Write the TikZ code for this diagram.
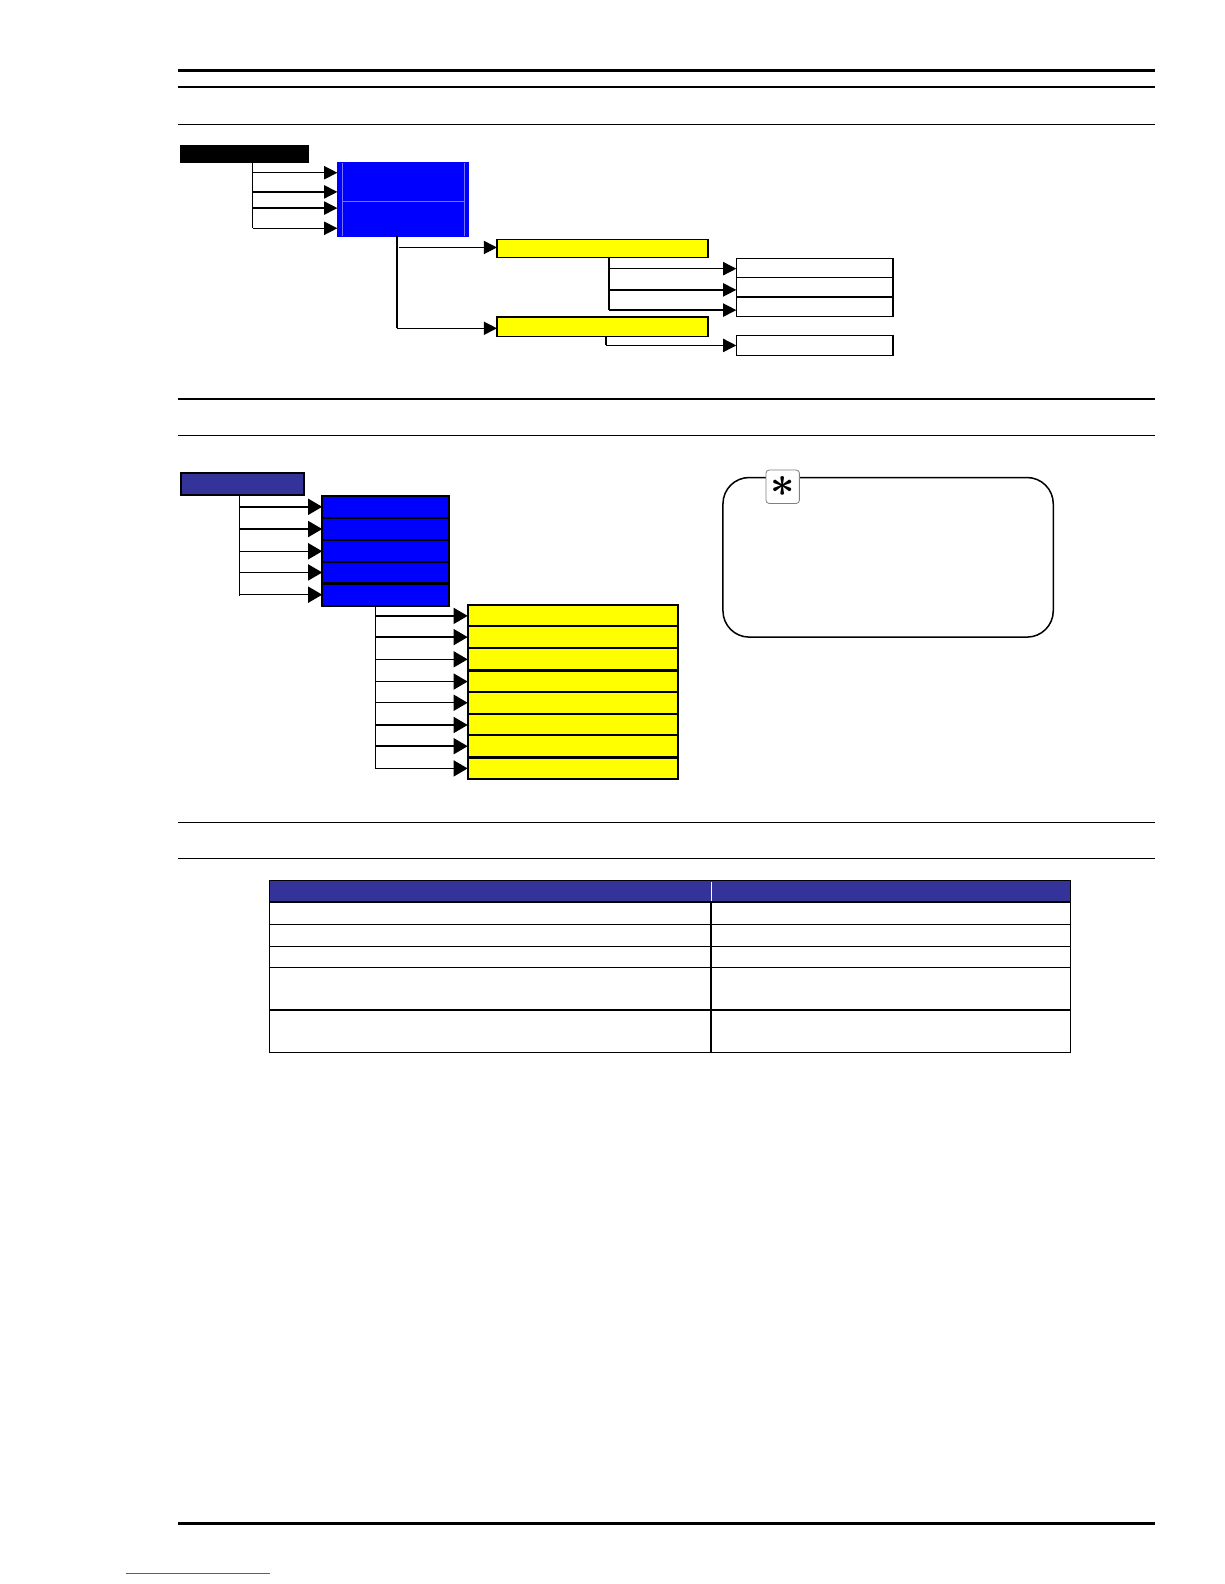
\documentclass[tikz,border=0pt]{standalone}
\usetikzlibrary{arrows.meta}
\definecolor{navy}{HTML}{333399}
\definecolor{pureblue}{HTML}{0000FF}
\definecolor{pureyellow}{HTML}{FFFF00}
\begin{document}
\begin{tikzpicture}[x=1pt,y=-1pt,
  box/.style={draw=black,line width=1.6pt,inner sep=0pt,outer sep=0pt,anchor=north west},
  sbox/.style={box,line width=2pt},
  wbox/.style={draw=black,line width=1.2pt,inner sep=0pt,outer sep=0pt,anchor=north west,fill=white},
  arr/.style={-{Triangle[length=13pt,width=13pt]},line width=1.4pt},
  arrb/.style={-{Triangle[length=14pt,width=16pt]},line width=1.4pt},
  ln/.style={line width=1.4pt},
  rule/.style={line width=1.3pt},
  thickrule/.style={line width=2.6pt}]
\useasboundingbox (0,0) rectangle (1211.8,1568.2);

% ---------- horizontal rules ----------
\draw[thickrule] (176,70) -- (1143,70);
\draw[rule] (176,86) -- (1143,86);
\draw[rule] (176,123) -- (1143,123);
\draw[rule] (176,395) -- (1143,395);
\draw[rule] (176,431) -- (1143,431);
\draw[rule] (176,814) -- (1143,814);
\draw[rule] (176,850) -- (1143,850);
\draw[thickrule] (176,1508) -- (1143,1508);
\draw[line width=1pt,color=blue!70] (125,1558) -- (267,1558);

% ---------- section 1 ----------
\node[box,fill=black,minimum width=126pt,minimum height=17pt] (top1) at (179,144) {};
\node[box,draw=pureblue,line width=0.5pt,fill=pureblue,minimum width=130pt,minimum height=73pt] (blue1) at (334,161) {};
\draw[color=blue!55!white,line width=0.6pt] (339,161) -- (339,234) (460,161) -- (460,234) (339,199) -- (460,199);

\coordinate (sp1) at (250,161);
\draw[ln] (top1.south -| sp1) -- (250,226);
\foreach \yy in {171,190,206,226}{
  \draw[arr] (250,\yy) -- (blue1.west |- 0,\yy);
}

\node[box,fill=pureyellow,minimum width=209pt,minimum height=18pt] (y1) at (492,237) {};
\node[box,fill=pureyellow,minimum width=209pt,minimum height=19pt] (y2) at (492,314) {};
\coordinate (sp2) at (393,234);
\draw[ln] (blue1.south -| sp2) -- (393,325);
\draw[arr] (395,245) -- (y1.west |- 0,245);
\draw[arr] (393,325) -- (y2.west |- 0,325);

\node[wbox,minimum width=155pt,minimum height=19pt,line width=1.6pt] (w1) at (729,256) {};
\node[wbox,minimum width=155pt,minimum height=19pt] (w2) at (729,275) {};
\node[wbox,minimum width=155pt,minimum height=19pt] (w3) at (729,294) {};
\node[wbox,minimum width=155pt,minimum height=20pt] (w4) at (729,332) {};
\coordinate (sp3) at (603,255);
\draw[ln] (y1.south -| sp3) -- (603,307);
\draw[arr] (603,266) -- (w1.west |- 0,266);
\draw[arr] (603,287) -- (w2.west |- 0,287);
\draw[arr] (603,307) -- (w3.west |- 0,307);
\coordinate (sp4) at (600,333);
\draw[ln] (y2.south -| sp4) -- (600,342);
\draw[arr] (600,342) -- (w4.west |- 0,342);

% ---------- section 2 ----------
\node[sbox,fill=navy,minimum width=122pt,minimum height=22pt] (top2) at (179,468) {};
\foreach \i/\yt in {1/491,2/513,3/535,4/556,5/578}{
  \node[sbox,fill=pureblue,minimum width=126pt,minimum height=21.5pt] (b\i) at (319,\yt) {};
}
\coordinate (sp5) at (237,490);
\draw[ln] (top2.south -| sp5) -- (237,590);
\foreach \i in {1,...,5}{
  \draw[arrb] (b\i.west -| sp5) -- (b\i.west);
}
\foreach \i/\yt in {1/599,2/620,3/642,4/664,5/685,6/707,7/728,8/750}{
  \node[sbox,fill=pureyellow,minimum width=208pt,minimum height=21.5pt] (c\i) at (463,\yt) {};
}
\coordinate (sp6) at (372,599);
\draw[ln] (b5.south -| sp6) -- (372,761);
\foreach \i in {1,...,8}{
  \draw[arrb] (c\i.west -| sp6) -- (c\i.west);
}

% note box
\node[draw=black,line width=1.5pt,rounded corners=26pt,anchor=north west,
      minimum width=327pt,minimum height=158pt,inner sep=0pt] (note) at (715,472) {};
\node[draw=gray,line width=0.8pt,rounded corners=3pt,fill=white,anchor=north west,
      minimum width=33pt,minimum height=33pt,inner sep=0pt] (star) at (758,465)
      {\scalebox{4.2}{\boldmath$\ast$}};

% ---------- table ----------
\fill[navy] (267,872) rectangle (1060,893);
\node[inner sep=0pt,outer sep=0pt,anchor=north west,minimum width=793pt,minimum height=170pt] (tab) at (267,872) {};
\draw[rule] (tab.north west) rectangle (tab.south east);
\draw[color=white,line width=1pt] (704,873) -- (704,892);
\draw[rule] (704,893) -- (704,1042);
\foreach \yy in {893,915,937,958,1000}{
  \draw[rule] (267,\yy) -- (1060,\yy);
}
\end{tikzpicture}
\end{document}
